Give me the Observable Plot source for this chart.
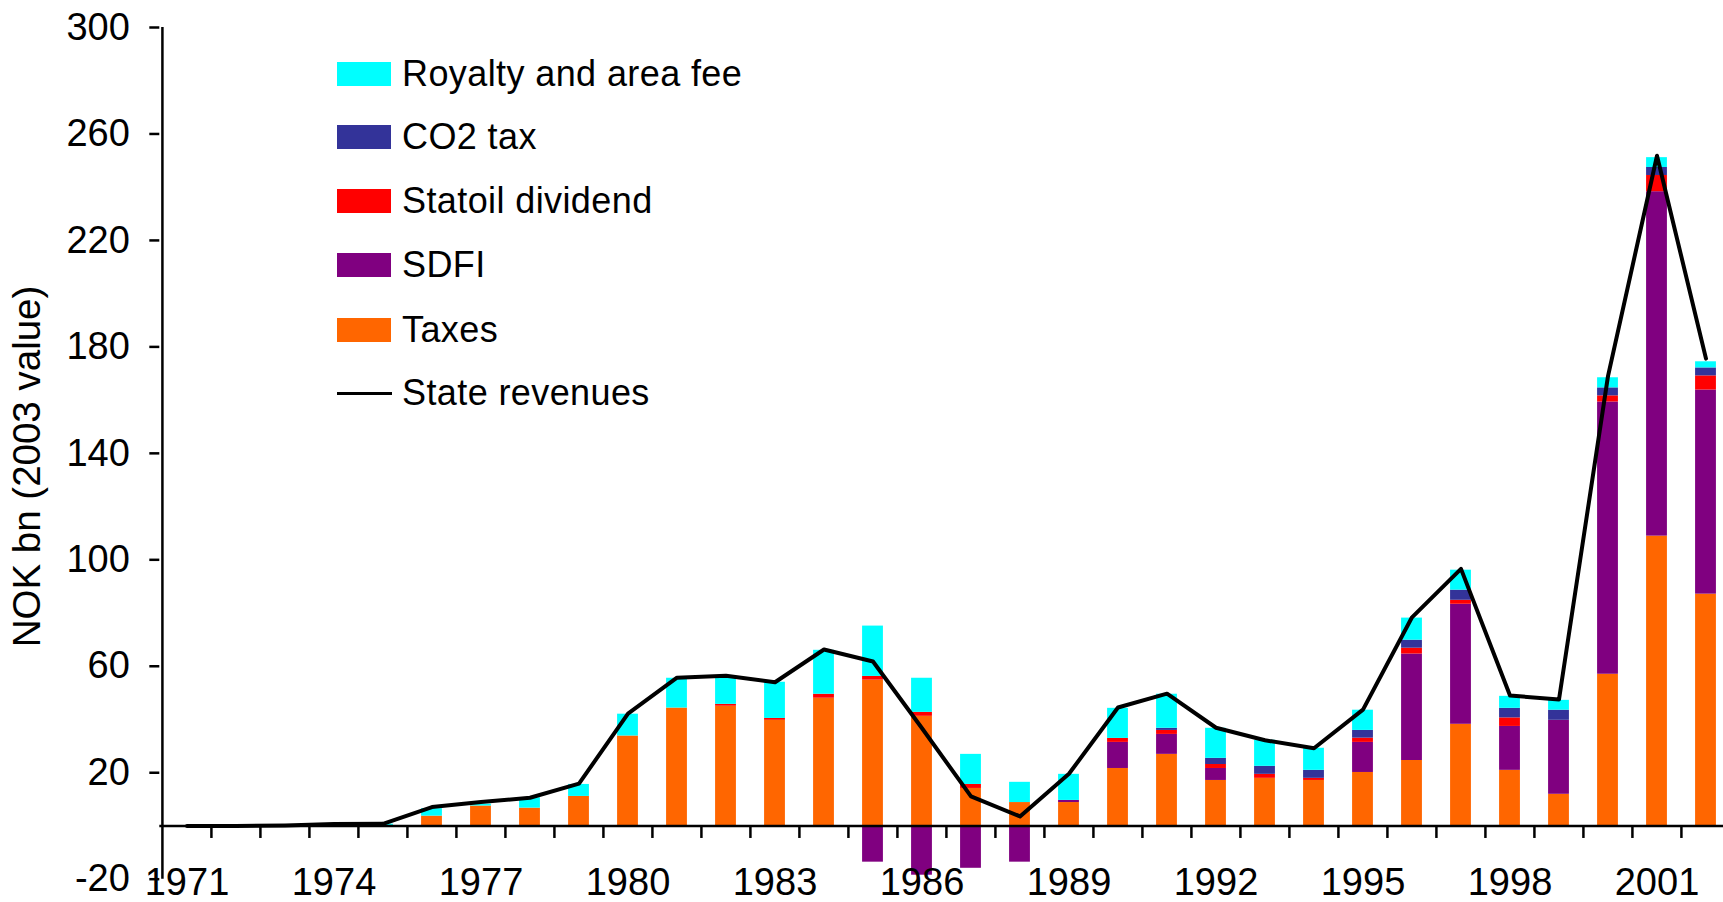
<!DOCTYPE html>
<html>
<head>
<meta charset="utf-8">
<script src="https://cdn.jsdelivr.net/npm/d3@7"></script>
<script src="https://cdn.jsdelivr.net/npm/@observablehq/plot@0.6"></script>
<style>
html, body { margin: 0; padding: 0; background: #fff; overflow: hidden; }
#wrap { position: relative; width: 1723px; height: 902px; font-family: "Liberation Sans", Arial, sans-serif; }
#legend { position: absolute; left: 337px; top: 0; }
.row { position: absolute; left: 0; display: flex; align-items: center; height: 36px; font-size: 36px; line-height: 36px; white-space: nowrap; letter-spacing: 0.4px; color: #000; }
.sw { width: 54px; height: 24px; margin-right: 11px; flex: none; }
.ln { width: 55px; height: 3.5px; background: #000; margin-right: 10px; flex: none; }
</style>
</head>
<body>
<div id="wrap"><div id="chart"></div><div id="legend"></div></div>
<script>
// ---- data (NOK bn, 2003 value) ----
const years = [1971,1972,1973,1974,1975,1976,1977,1978,1979,1980,1981,1982,1983,1984,1985,1986,
               1987,1988,1989,1990,1991,1992,1993,1994,1995,1996,1997,1998,1999,2000,2001,2002];
const taxes    = [0,0,0,0.2,0.2,3.7,7.5,6.7,11.1,33.8,44.3,45.0,39.7,48.0,54.8,41.2,
                  14.1,8.8,8.8,21.6,26.9,17.1,17.9,17.1,20.1,24.6,38.2,20.9,11.9,57.0,108.9,87.1];
const sdfi     = [0,0,0,0,0,0,0,0,0,0,0,0,0,0,-13.6,-18.5,
                  -15.9,-13.6,0.8,9.8,7.5,4.5,0,0,11.3,40.0,45.1,16.5,27.8,102.3,129.4,76.7];
const statoil  = [0,0,0,0,0,0,0,0,0,0,0,0.7,0.7,1.5,1.4,1.5,
                  1.5,0,0,1.5,1.5,1.5,1.5,0.8,1.6,2.2,1.5,3.2,0,2.3,6.1,5.3];
const co2      = [0,0,0,0,0,0,0,0,0,0,0,0,0,0,0,0,
                  0,0,0,0,0.8,2.3,3.0,3.0,2.9,3.0,3.8,3.6,3.8,3.0,3.0,3.0];
const royalty  = [0,0,0,0.2,0.5,2.8,0.7,3.9,4.5,8.2,11.2,9.8,13.6,16.5,18.9,12.8,
                  11.3,7.6,9.8,11.3,12.8,11.3,9.8,8.3,7.6,8.3,7.5,4.5,3.7,3.8,3.7,2.3];
const revenues = [0,0,0.2,0.7,0.8,7.1,9.0,10.6,15.9,42.2,55.7,56.4,54.0,66.3,61.8,36.7,
                  11.1,3.6,19.6,44.5,49.7,36.9,32.2,29.2,43.7,78.4,96.6,49.0,47.5,169,251.8,175.6];
const seriesNames  = ["Taxes", "SDFI", "Statoil dividend", "CO2 tax", "Royalty and area fee"];
const seriesColors = ["#FF6600", "#800080", "#FF0000", "#333399", "#00FFFF"];
const seriesValues = [taxes, sdfi, statoil, co2, royalty];
const yTicks = [-20, 20, 60, 100, 140, 180, 220, 260, 300];
const xLabelYears = [1971, 1974, 1977, 1980, 1983, 1986, 1989, 1992, 1995, 1998, 2001];
const legendOrder = ["Royalty and area fee", "CO2 tax", "Statoil dividend", "SDFI", "Taxes"];
const lineName = "State revenues";
const yTitle = "NOK bn (2003 value)";

// ---- layout ----
const W = 1723, H = 902, ML = 159.3, MR = -9.7, MT = 27, MB = 23.3;
const step = (W - ML - MR) / years.length;
const barW = 21;
const ppu = (H - MT - MB) / 320;
const tickLen = 12.5 / ppu;

const table = [];
seriesNames.forEach((name, s) => years.forEach((yr, i) => table.push({year: yr, series: name, value: seriesValues[s][i]})));
const lineData = years.map((yr, i) => ({year: yr, value: revenues[i]}));

const plot = Plot.plot({
  width: W, height: H,
  marginLeft: ML, marginRight: MR, marginTop: MT, marginBottom: MB,
  style: {fontFamily: "'Liberation Sans', Arial, sans-serif", background: "white", overflow: "visible", color: "#000"},
  x: {type: "band", domain: years, padding: 0, axis: null},
  y: {domain: [-20, 300], axis: null},
  color: {domain: seriesNames, range: seriesColors},
  marks: [
    Plot.barY(table, {x: "year", y: "value", fill: "series", insetLeft: (step - barW) / 2, insetRight: (step - barW) / 2}),
    Plot.ruleY([0], {stroke: "#000", strokeWidth: 2.5}),
    Plot.ruleX(years.slice(1), {x: d => d, dx: -step / 2, y1: 0, y2: -tickLen, stroke: "#000", strokeWidth: 2.5}),
    Plot.ruleX([years[0]], {x: d => d, dx: -step / 2, y1: -20, y2: 300, stroke: "#000", strokeWidth: 2.5}),
    Plot.lineY(lineData, {x: "year", y: "value", stroke: "#000", strokeWidth: 4}),
    Plot.axisY({ticks: yTicks, tickSize: 10, tickPadding: 20, fontSize: 38, tickFormat: d => String(d), strokeWidth: 2.5, label: null}),
    Plot.text(xLabelYears, {x: d => d, text: d => String(d), frameAnchor: "bottom", lineAnchor: "middle", dy: 4, fontSize: 38, fill: "#000"}),
    Plot.text([yTitle], {frameAnchor: "left", textAnchor: "middle", rotate: -90, dx: 27.5 - ML, dy: 466 - (MT + (H - MT - MB) / 2), fontSize: 38.5, fill: "#000"})
  ]
});
document.getElementById("chart").appendChild(plot);

// ---- legend ----
const legend = document.getElementById("legend");
const rowCenters = [73.8, 137.2, 200.8, 265.2, 329.8, 393.3];
legendOrder.forEach((name, k) => {
  const row = document.createElement("div");
  row.className = "row";
  row.style.top = (rowCenters[k] - 18) + "px";
  const sw = document.createElement("div");
  sw.className = "sw";
  sw.style.background = seriesColors[seriesNames.indexOf(name)];
  row.appendChild(sw);
  row.appendChild(document.createTextNode(name));
  legend.appendChild(row);
});
const lrow = document.createElement("div");
lrow.className = "row";
lrow.style.top = (rowCenters[5] - 18) + "px";
const ln = document.createElement("div");
ln.className = "ln";
lrow.appendChild(ln);
lrow.appendChild(document.createTextNode(lineName));
legend.appendChild(lrow);
</script>
</body>
</html>
